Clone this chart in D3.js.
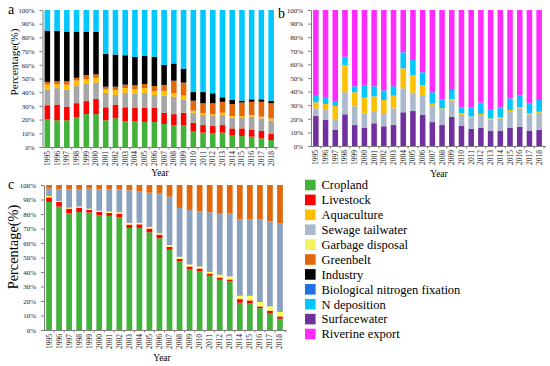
<!DOCTYPE html>
<html>
<head>
<meta charset="utf-8">
<script src="https://cdn.jsdelivr.net/npm/d3@7/dist/d3.min.js"></script>
<style>
  body { margin: 0; background: #fff; }
  svg text { font-family: "Liberation Serif", "Times New Roman", serif; }
</style>
</head>
<body>
<svg id="chart" width="550" height="366"></svg>
<script>
// Categories and ticks
let years = ["1995","1996","1997","1998","1999","2000","2001","2002","2003","2004","2005","2006",
  "2007","2008","2009","2010","2011","2012","2013","2014","2015","2016","2017","2018"];
let yTicks = [0, 10, 20, 30, 40, 50, 60, 70, 80, 90, 100];

// Panel a (%), bottom to top
let aCropland   = [20, 19.5, 19.5, 21.5, 24, 24, 19.5, 21, 19, 19, 18.3, 18.2, 16.8, 16, 16, 11.2, 10.5, 10, 10.5, 8.3, 8, 7.5, 6.3, 5.1];
let aLivestock  = [10.5, 11.5, 10, 10.5, 9.5, 11, 9.5, 10, 10, 9.5, 10.2, 10.5, 8.2, 8, 9, 6.6, 5.5, 5.3, 5.5, 5.3, 5.6, 4.9, 5.4, 4.4];
let aSewage     = [11.5, 12, 12.5, 12.5, 12.5, 12, 10.5, 7, 10.5, 10.5, 11, 9.3, 12.5, 12.7, 9.8, 7.2, 7.4, 7.3, 7.4, 7.8, 8.1, 9.7, 9.2, 9.9];
let aAquaculture= [3.5, 3, 3.5, 4, 3.5, 3.5, 2.5, 3.5, 3.5, 3, 3.5, 2.9, 3.5, 2.5, 2.7, 1.5, 1.2, 1.2, 1.6, 1.2, 0.9, 1.3, 1.2, 1.5];
let aGreenbelt  = [2, 2, 2.5, 2, 3, 2.5, 2, 2.5, 2.5, 3, 3, 3.6, 4.3, 9.2, 9.5, 7.3, 7.3, 8.1, 8, 8.8, 9.9, 9.6, 10.9, 11];
let aIndustry   = [37.5, 36.7, 36.3, 33.8, 31.8, 31, 24, 23.5, 21.5, 20.7, 20.5, 21.4, 14.6, 12.6, 10.2, 6.3, 8.2, 7.3, 3.3, 2.9, 1.3, 1.8, 1.8, 1.9];
let aDeposition = [15, 15.3, 15.7, 15.7, 15.7, 16, 32, 32.5, 33, 34.3, 33.5, 34.1, 40.1, 39, 42.8, 59.9, 59.9, 60.8, 63.7, 65.7, 66.2, 65.2, 65.2, 66.2];

// Panel b (%)
let bSurface    = [22, 19.1, 11.8, 23.3, 15.4, 13.5, 16.7, 14.5, 15.4, 24.8, 25.7, 22.8, 17.6, 15.4, 21.3, 14.7, 12.5, 13.5, 11, 11, 13.5, 14, 11.3, 12];
let bSewage     = [5.7, 7.9, 7.8, 16.2, 13.8, 10.5, 9, 9, 12.3, 17.6, 13.5, 14, 12.5, 11.6, 12, 8.1, 8.3, 9.3, 8.6, 9.3, 12.2, 13.7, 12, 12.5];
let bAquaculture= [4.4, 3.9, 9.8, 20.1, 10.3, 11.5, 10.8, 10.3, 9.3, 14.7, 12.8, 7.8, 1, 0.7, 1.3, 1.2, 0.8, 0.7, 0.7, 1, 0.8, 0.7, 0.7, 0.7];
let bDeposition = [5.4, 5.1, 3.7, 6.1, 4.4, 9.4, 7.4, 7.1, 6.9, 11.8, 11.2, 9.6, 8.4, 6.6, 6.6, 4.4, 6.8, 8.4, 6.9, 7.1, 8.5, 8.9, 7.1, 8.6];
let bRiverine   = [62.5, 64, 66.9, 34.3, 56.1, 55.1, 56.1, 59.1, 56.1, 31.1, 36.8, 45.8, 60.5, 65.7, 58.8, 71.6, 71.6, 68.1, 72.8, 71.6, 65, 62.7, 68.9, 66.2];

// Panel c (%)
let cCropland   = [88.3, 85.1, 80.5, 81.4, 81, 79.1, 78.7, 77.8, 70.4, 70.4, 67.4, 63.3, 55.3, 47.2, 42, 40.6, 37.4, 34.6, 33.5, 18.8, 18.6, 15.1, 11.7, 7.8];
let cLivestock  = [3.2, 3.2, 3.2, 3, 2, 2.3, 2, 2.5, 2.3, 2.5, 2.6, 2.5, 2, 1.9, 1.8, 1.8, 1.6, 1.6, 1.4, 2.5, 1.8, 1.2, 1.6, 1.6];
let cGarbage    = [0.9, 0.7, 0.7, 0.7, 0.7, 0.9, 1, 0.9, 1.2, 1, 1.1, 0.9, 1.2, 1.4, 1.4, 1.4, 1.1, 1.9, 2, 2.3, 3.2, 3, 3, 3];
let cSewage     = [5.1, 8.2, 12.8, 12.1, 13.8, 14.9, 15.3, 15.8, 22.4, 21.5, 23.6, 27.3, 33.5, 33.7, 37.6, 38.1, 41.1, 42.6, 43.4, 52.8, 52.8, 56.8, 58.7, 61.2];
let cGreenbelt  = [2.5, 2.8, 2.8, 2.8, 2.5, 2.8, 3, 3, 3.7, 4.6, 5.3, 6, 8, 15.8, 17.2, 18.1, 18.8, 19.3, 19.7, 23.6, 23.6, 23.9, 25, 26.4];

// Legend
let legendNames = ["Cropland", "Livestock", "Aquaculture", "Sewage tailwater", "Garbage disposal", "Greenbelt",
  "Industry", "Biological nitrogen fixation", "N deposition", "Surfacewater", "Riverine export"];
let legendColors = ["#42b23a", "#ff0000", "#ffc000", "#a9b8cc", "#f2f261", "#e3680c",
  "#000000", "#1f72e6", "#00c8ff", "#7030a0", "#ff2bff"];

let svg = d3.select("#chart");
svg.append("rect").attr("width", 550).attr("height", 366).attr("fill", "#fff");

function drawPanel(p){
    let rows = years.map((yr, i) => {
        let r = {year: yr};
        p.series.forEach(s => r[s.name] = s.values[i]);
        return r;
    });
    let keys = p.series.map(s => s.name);
    let stacked = d3.stack().keys(keys)(rows);

    let x = d3.scaleBand().domain(years).range(p.xRange).paddingInner(0.43).paddingOuter(0.215);
    let y = d3.scaleLinear().domain([0, 100]).range(p.yRange);

    let g = svg.append("g");

    g.selectAll(".layer")
        .data(stacked)
        .enter().append("g")
        .attr("fill", (d, i) => p.series[i].color)
        .selectAll("rect")
        .data(d => d)
        .enter().append("rect")
        .attr("x", d => x(d.data.year))
        .attr("width", x.bandwidth())
        .attr("y", d => y(d[1]))
        .attr("height", d => y(d[0]) - y(d[1]));

    // y axis
    let yAxis = g.append("g")
        .attr("transform", "translate(" + p.xRange[0] + ",0)")
        .call(d3.axisLeft(y).tickValues(yTicks).tickFormat(d => d + "%").tickSize(3).tickSizeOuter(0));
    yAxis.attr("font-family", null);
    yAxis.selectAll("text").style("font-size", "7px").attr("fill", "#222").attr("dx", "-2");
    yAxis.selectAll("line, path").attr("stroke", "#7f7f7f");

    // x axis, labels turned upright, small marks between bars
    let xAxis = g.append("g")
        .attr("transform", "translate(0," + p.yRange[0] + ")")
        .call(d3.axisBottom(x).tickSize(0).tickSizeOuter(0));
    xAxis.attr("font-family", null);
    xAxis.select("path").attr("stroke", "#7f7f7f").attr("d", "M" + p.xRange[0] + ",0.5H" + (p.xRange[1] + 2));
    xAxis.selectAll("text")
        .style("font-size", "7.5px")
        .attr("fill", "#222")
        .attr("text-anchor", "end")
        .attr("transform", "rotate(-90)")
        .attr("x", -4).attr("y", 0).attr("dy", "0.33em");
    xAxis.selectAll(".bound")
        .data(years)
        .enter().append("line")
        .attr("class", "bound")
        .attr("x1", d => x(d) + x.bandwidth() + x.step() * 0.215)
        .attr("x2", d => x(d) + x.bandwidth() + x.step() * 0.215)
        .attr("y1", 0).attr("y2", 2.5)
        .attr("stroke", "#7f7f7f");

    // titles
    g.append("text").attr("x", p.yearPos[0]).attr("y", p.yearPos[1])
        .attr("text-anchor", "middle").style("font-size", "9.5px").text("Year");
    if(p.yLabel){
        g.append("text")
            .attr("transform", "translate(" + p.yLabel[0] + "," + p.yLabel[1] + ") rotate(-90)")
            .attr("text-anchor", "middle").style("font-size", p.yLabel[2] + "px").text("Percentage(%)");
    }
    g.append("text").attr("x", p.letter[1]).attr("y", p.letter[2])
        .style("font-size", "14px").text(p.letter[0]);
}

drawPanel({
    xRange: [42.5, 276], yRange: [147, 10],
    series: [
        {name: "Cropland", values: aCropland, color: "#42b23a"},
        {name: "Livestock", values: aLivestock, color: "#ff0000"},
        {name: "Sewage tailwater", values: aSewage, color: "#a6a6a6"},
        {name: "Aquaculture", values: aAquaculture, color: "#ffc000"},
        {name: "Greenbelt", values: aGreenbelt, color: "#e3680c"},
        {name: "Industry", values: aIndustry, color: "#000000"},
        {name: "N deposition", values: aDeposition, color: "#00c8ff"}
    ],
    yearPos: [160, 176], yLabel: [18, 62, 11.4], letter: ["a", 8, 14]
});

drawPanel({
    xRange: [311, 544], yRange: [146, 10],
    series: [
        {name: "Surfacewater", values: bSurface, color: "#7030a0"},
        {name: "Sewage tailwater", values: bSewage, color: "#aab9cc"},
        {name: "Aquaculture", values: bAquaculture, color: "#ffc000"},
        {name: "N deposition", values: bDeposition, color: "#00c8ff"},
        {name: "Riverine export", values: bRiverine, color: "#ff2bff"}
    ],
    yearPos: [439, 177], yLabel: null, letter: ["b", 278, 18]
});

drawPanel({
    xRange: [44, 285], yRange: [330, 185],
    series: [
        {name: "Cropland", values: cCropland, color: "#42b23a"},
        {name: "Livestock", values: cLivestock, color: "#ff0000"},
        {name: "Garbage disposal", values: cGarbage, color: "#ffff50"},
        {name: "Sewage tailwater", values: cSewage, color: "#8aa2bf"},
        {name: "Greenbelt", values: cGreenbelt, color: "#e3680c"}
    ],
    yearPos: [162, 361], yLabel: [18, 247, 14.4], letter: ["c", 8, 189]
});

// legend
let legend = svg.append("g").selectAll("g")
    .data(legendNames)
    .enter().append("g")
    .attr("transform", (d, i) => "translate(305," + (185 + i * 14.9) + ")");
legend.append("rect")
    .attr("x", 0).attr("y", -5.3).attr("width", 10.6).attr("height", 10.6)
    .attr("fill", (d, i) => legendColors[i]);
legend.append("text")
    .attr("x", 16.5).attr("y", 0).attr("dy", "0.35em")
    .style("font-size", "12.5px").text(d => d);
</script>
</body>
</html>
